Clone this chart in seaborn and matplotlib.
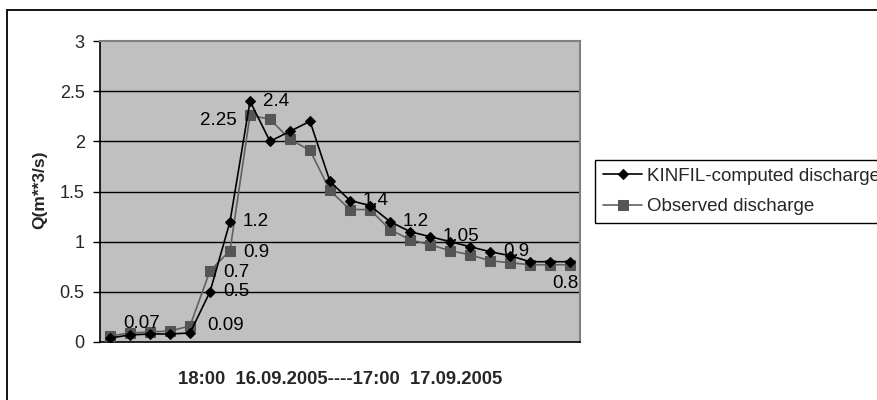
import matplotlib
matplotlib.use("Agg")
import matplotlib.pyplot as plt
from matplotlib.patches import Rectangle
import seaborn as sns
import pandas as pd
import numpy as np

# ---- data ----
time_index = list(range(24))
kinfil = [0.04, 0.07, 0.08, 0.08, 0.09, 0.5, 1.2, 2.4, 2.0, 2.1, 2.2, 1.6,
          1.41, 1.36, 1.2, 1.1, 1.05, 1.0, 0.95, 0.9, 0.86, 0.8, 0.8, 0.8]
observed = [0.06, 0.09, 0.10, 0.11, 0.16, 0.71, 0.91, 2.26, 2.22, 2.02, 1.91, 1.51,
            1.32, 1.32, 1.12, 1.02, 0.97, 0.91, 0.87, 0.81, 0.79, 0.77, 0.77, 0.77]
series_names = ["KINFIL-computed discharge", "Observed discharge"]
y_ticks = [0, 0.5, 1, 1.5, 2, 2.5, 3]
y_ticklabels = ["0", "0.5", "1", "1.5", "2", "2.5", "3"]
x_title = "18:00  16.09.2005----17:00  17.09.2005"
y_title = "Q(m**3/s)"
# data labels: (text, index)
labels_kin = [("0.07", 1), ("0.09", 4), ("0.5", 5), ("1.2", 6), ("2.4", 7),
              ("1.4", 12), ("1.2", 14), ("1.05", 16), ("0.9", 19), ("0.8", 23)]
labels_obs = [("0.7", 5), ("0.9", 6), ("2.25", 7)]

sns.set_style("white")
plt.rcParams["font.family"] = ["Liberation Sans", "DejaVu Sans"]

W, H = 877, 400
fig = plt.figure(figsize=(W / 100, H / 100), dpi=100)
ax = fig.add_axes([100 / W, (H - 342) / H, 480 / W, 301 / H])
ax.set_facecolor("#C0C0C0")

df = pd.DataFrame({"t": time_index, "kin": kinfil, "obs": observed})

sns.lineplot(data=df, x="t", y="obs", ax=ax, color="#606060", lw=1.2,
             marker="s", markersize=6.5, markerfacecolor="#555555",
             markeredgecolor="#555555", label=series_names[1], zorder=3)
sns.lineplot(data=df, x="t", y="kin", ax=ax, color="black", lw=1.2,
             marker="D", markersize=5.5, markerfacecolor="black",
             markeredgecolor="black", label=series_names[0], zorder=4)

ax.set_xlim(-0.5, 23.5)
ax.set_ylim(0, 3)
ax.set_yticks(y_ticks)
ax.set_yticklabels(y_ticklabels, fontsize=13)
ax.set_xticks([])
ax.tick_params(axis="y", direction="out", length=5, width=1, color="black",
               pad=6, left=True)
for yv in y_ticks[1:-1]:
    ax.axhline(yv, color="black", lw=1, zorder=1)
for s in ["left", "bottom"]:
    ax.spines[s].set_color("black")
    ax.spines[s].set_linewidth(1.2)
for s in ["top", "right"]:
    ax.spines[s].set_color("#808080")
    ax.spines[s].set_linewidth(1.5)

xl = ax.set_xlabel(x_title, fontsize=13.3, fontweight="bold")
xl.set_va("center")
ax.xaxis.set_label_coords(0.5, (342 - 379) / 301)
yl = ax.set_ylabel(y_title, fontsize=12.5, fontweight="bold")
yl.set_va("center")
ax.yaxis.set_label_coords((40 - 100) / 480, (342 - 190) / 301)

fs = 13.5
def lab(txt, x, y, dx, dy, ha="left", va="center"):
    ax.annotate(txt, xy=(x, y), xytext=(dx, dy), textcoords="offset pixels",
                ha=ha, va=va, fontsize=fs, color="black", zorder=6)

for txt, i in labels_kin:
    y = kinfil[i]
    if txt == "0.07":
        lab(txt, i, y, -7, 11)
    elif txt == "0.09":
        lab(txt, i, y, 17, 7)
    elif txt == "0.8":
        lab(txt, i, y, -5, -22, ha="center")
    else:
        lab(txt, i, y, 13, 0)
for txt, i in labels_obs:
    y = observed[i]
    if txt == "2.25":
        lab(txt, i, y, -13, -5, ha="right")
    else:
        lab(txt, i, y, 13, -2)

ax.get_legend().remove()
h, l = ax.get_legend_handles_labels()
order = [l.index(series_names[0]), l.index(series_names[1])]
leg = fig.legend([h[k] for k in order], [l[k] for k in order],
                 loc="upper left", bbox_to_anchor=(595 / W, (H - 160) / H),
                 fontsize=13.5, frameon=True, fancybox=False, framealpha=1,
                 edgecolor="black", handlelength=2.1, handletextpad=0.25,
                 labelspacing=0.7, borderpad=0.42, borderaxespad=0)
leg.get_frame().set_linewidth(1.0)

fig.add_artist(Rectangle((7 / W, -0.1), 1.2, (H - 10) / H + 0.1,
                         transform=fig.transFigure, fill=False,
                         edgecolor="black", lw=1.3))

fig.savefig("out.png", dpi=100)
